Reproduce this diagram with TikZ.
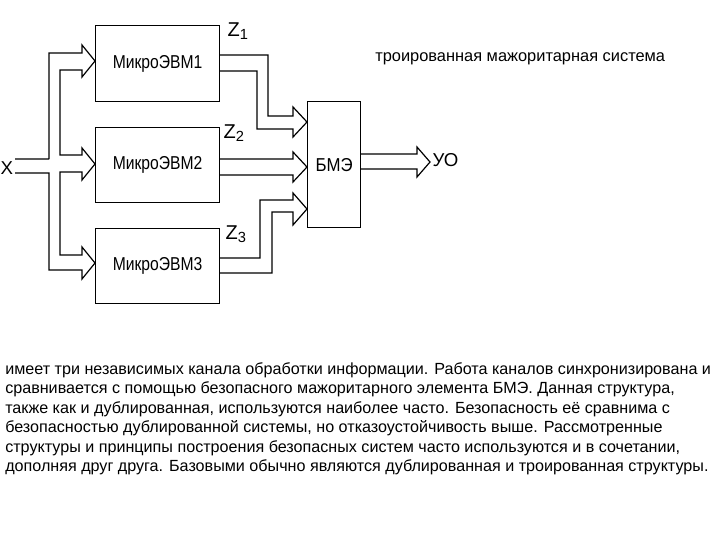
\documentclass[tikz,border=0pt]{standalone}
\usepackage{fontspec}
\setmainfont{Liberation Sans}
\begin{document}
\begin{tikzpicture}[x=0.75pt,y=-0.75pt,
  blk/.style={draw,line width=0.9pt,inner sep=0pt,anchor=north west},
  bus/.style={line width=0.9pt,line join=miter},
  lbl/.style={font=\fontsize{14}{15}\selectfont},
  zl/.style={anchor=west,font=\fontsize{15}{16}\selectfont},
  para/.style={anchor=west,inner sep=0pt,font=\fontsize{12.1}{13}\selectfont}]
\useasboundingbox (0,0) rectangle (720,540);
% boxes
\node[blk,minimum width=124*0.75pt,minimum height=76*0.75pt] (m1) at (95,25) {};
\node[blk,minimum width=124*0.75pt,minimum height=75*0.75pt] (m2) at (95,127) {};
\node[blk,minimum width=124*0.75pt,minimum height=75*0.75pt] (m3) at (95,228) {};
\node[blk,minimum width=53*0.75pt,minimum height=126*0.75pt] (b) at (307,101) {};
\node[lbl,xscale=0.84] at (m1.center) {МикроЭВМ1};
\node[lbl,xscale=0.84] at (m2.center) {МикроЭВМ2};
\node[lbl,xscale=0.84] at (m3.center) {МикроЭВМ3};
\node[lbl,xscale=0.9] at (b.center) {БМЭ};
\node[lbl,anchor=west] (x) at (-4,168) {X};
\node[lbl,anchor=west] (uo) at (428,160) {УО};
\node[zl] (z1) at (223,31) {Z\raisebox{-0.3ex}{\fontsize{11}{12}\selectfont 1}};
\node[zl] (z2) at (219,133) {Z\raisebox{-0.3ex}{\fontsize{11}{12}\selectfont 2}};
\node[zl] (z3) at (221,234) {Z\raisebox{-0.3ex}{\fontsize{11}{12}\selectfont 3}};
% input bus
\draw[bus] (15,159) -- (49,159) (49,159) -- (49,53) -- (82,53) -- (82,45) -- (m1.west |- 0,61) -- (82,77) -- (82,70) -- (60,70) -- (60,155) -- (82,155) -- (82,148) -- (m2.west |- 0,164) -- (82,180) -- (82,172) -- (60,172) -- (60,255) -- (82,255) -- (82,247) -- (m3.west |- 0,263) -- (82,279) -- (82,270) -- (49,270) -- (49,173) -- (15,173);
% outputs
\draw[bus] (219,55) -- (268,55) -- (268,116) -- (293,116) -- (293,107) -- (b.west |- 0,122) -- (293,137) -- (293,129) -- (257,129) -- (257,71) -- (219,71);
\draw[bus] (219,159) -- (293,159) -- (293,152) -- (b.west |- 0,167) -- (293,182) -- (293,175) -- (219,175);
\draw[bus] (219,258) -- (260,258) -- (260,200) -- (293,200) -- (293,193) -- (b.west |- 0,209) -- (293,225) -- (293,212) -- (272,212) -- (272,273) -- (219,273);
\draw[bus] (b.east |- 0,154) -- (417,154) -- (417,147) -- (430,162) -- (417,177) -- (417,169) -- (b.east |- 0,169);
% texts
\node[anchor=west,inner sep=0pt,font=\fontsize{12.3}{13}\selectfont] (t) at (375,59) {троированная мажоритарная система};
\node[para] (p1) at (5,370) {имеет три независимых канала обработки информации. Работа каналов синхронизирована и};
\node[para] (p2) at (5,389.5) {сравнивается с помощью безопасного мажоритарного элемента БМЭ. Данная структура,};
\node[para] (p3) at (5,409) {также как и дублированная, используются наиболее часто. Безопасность её сравнима с};
\node[para] (p4) at (5,428.5) {безопасностью дублированной системы, но отказоустойчивость выше. Рассмотренные};
\node[para] (p5) at (5,448) {структуры и принципы построения безопасных систем часто используются и в сочетании,};
\node[para] (p6) at (5,467.5) {дополняя друг друга. Базовыми обычно являются дублированная и троированная структуры.};
\end{tikzpicture}
\end{document}
